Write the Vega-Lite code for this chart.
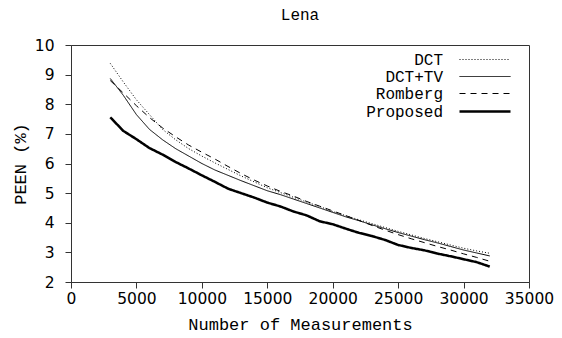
{
  "$schema": "https://vega.github.io/schema/vega-lite/v6.json",
  "width": 458,
  "height": 237,
  "autosize": {"type": "none"},
  "padding": {"left": 71, "top": 45, "right": 33, "bottom": 56},
  "title": {"text": "Lena", "font": "Liberation Mono", "fontSize": 16, "fontWeight": "normal", "color": "#000000", "offset": 15, "anchor": "middle"},
  "config": {
    "view": {"stroke": "#333333", "strokeWidth": 1, "fill": "#ffffff"},
    "axis": {"grid": false, "domain": true, "domainColor": "#333333", "ticks": true, "tickColor": "#333333", "tickSize": 6, "labelOverlap": false, "labelFlush": false,
      "labelFont": "DejaVu Sans", "labelFontSize": 15.5, "labelColor": "#000000",
      "titleFont": "Liberation Mono", "titleFontSize": 17, "titleFontWeight": "normal", "titleColor": "#000000"},
    "legend": {"labelFont": "Liberation Mono", "labelFontSize": 16, "labelColor": "#000000"}
  },
  "data": {"values": [
      {"n": 3000, "s": "DCT", "v": 9.38}, {"n": 4000, "s": "DCT", "v": 8.75}, {"n": 5000, "s": "DCT", "v": 8.15}, {"n": 6000, "s": "DCT", "v": 7.65}, {"n": 7000, "s": "DCT", "v": 7.15}, {"n": 8000, "s": "DCT", "v": 6.8}, {"n": 9000, "s": "DCT", "v": 6.5}, {"n": 10000, "s": "DCT", "v": 6.25}, {"n": 11000, "s": "DCT", "v": 6.02}, {"n": 12000, "s": "DCT", "v": 5.8}, {"n": 13000, "s": "DCT", "v": 5.58}, {"n": 14000, "s": "DCT", "v": 5.38}, {"n": 15000, "s": "DCT", "v": 5.18}, {"n": 16000, "s": "DCT", "v": 5.02}, {"n": 17000, "s": "DCT", "v": 4.86}, {"n": 18000, "s": "DCT", "v": 4.7}, {"n": 19000, "s": "DCT", "v": 4.55}, {"n": 20000, "s": "DCT", "v": 4.38}, {"n": 21000, "s": "DCT", "v": 4.24}, {"n": 22000, "s": "DCT", "v": 4.1}, {"n": 23000, "s": "DCT", "v": 3.97}, {"n": 24000, "s": "DCT", "v": 3.84}, {"n": 25000, "s": "DCT", "v": 3.71}, {"n": 26000, "s": "DCT", "v": 3.59}, {"n": 27000, "s": "DCT", "v": 3.47}, {"n": 28000, "s": "DCT", "v": 3.36}, {"n": 29000, "s": "DCT", "v": 3.25}, {"n": 30000, "s": "DCT", "v": 3.14}, {"n": 31000, "s": "DCT", "v": 3.05}, {"n": 32000, "s": "DCT", "v": 2.97},
      {"n": 3000, "s": "DCT+TV", "v": 8.87}, {"n": 4000, "s": "DCT+TV", "v": 8.3}, {"n": 5000, "s": "DCT+TV", "v": 7.65}, {"n": 6000, "s": "DCT+TV", "v": 7.15}, {"n": 7000, "s": "DCT+TV", "v": 6.8}, {"n": 8000, "s": "DCT+TV", "v": 6.5}, {"n": 9000, "s": "DCT+TV", "v": 6.25}, {"n": 10000, "s": "DCT+TV", "v": 6.0}, {"n": 11000, "s": "DCT+TV", "v": 5.78}, {"n": 12000, "s": "DCT+TV", "v": 5.6}, {"n": 13000, "s": "DCT+TV", "v": 5.42}, {"n": 14000, "s": "DCT+TV", "v": 5.25}, {"n": 15000, "s": "DCT+TV", "v": 5.08}, {"n": 16000, "s": "DCT+TV", "v": 4.95}, {"n": 17000, "s": "DCT+TV", "v": 4.8}, {"n": 18000, "s": "DCT+TV", "v": 4.65}, {"n": 19000, "s": "DCT+TV", "v": 4.5}, {"n": 20000, "s": "DCT+TV", "v": 4.35}, {"n": 21000, "s": "DCT+TV", "v": 4.2}, {"n": 22000, "s": "DCT+TV", "v": 4.07}, {"n": 23000, "s": "DCT+TV", "v": 3.93}, {"n": 24000, "s": "DCT+TV", "v": 3.8}, {"n": 25000, "s": "DCT+TV", "v": 3.67}, {"n": 26000, "s": "DCT+TV", "v": 3.55}, {"n": 27000, "s": "DCT+TV", "v": 3.43}, {"n": 28000, "s": "DCT+TV", "v": 3.32}, {"n": 29000, "s": "DCT+TV", "v": 3.2}, {"n": 30000, "s": "DCT+TV", "v": 3.08}, {"n": 31000, "s": "DCT+TV", "v": 2.98}, {"n": 32000, "s": "DCT+TV", "v": 2.88},
      {"n": 3000, "s": "Romberg", "v": 8.8}, {"n": 4000, "s": "Romberg", "v": 8.38}, {"n": 5000, "s": "Romberg", "v": 7.95}, {"n": 6000, "s": "Romberg", "v": 7.55}, {"n": 7000, "s": "Romberg", "v": 7.2}, {"n": 8000, "s": "Romberg", "v": 6.9}, {"n": 9000, "s": "Romberg", "v": 6.62}, {"n": 10000, "s": "Romberg", "v": 6.38}, {"n": 11000, "s": "Romberg", "v": 6.15}, {"n": 12000, "s": "Romberg", "v": 5.9}, {"n": 13000, "s": "Romberg", "v": 5.66}, {"n": 14000, "s": "Romberg", "v": 5.44}, {"n": 15000, "s": "Romberg", "v": 5.24}, {"n": 16000, "s": "Romberg", "v": 5.06}, {"n": 17000, "s": "Romberg", "v": 4.9}, {"n": 18000, "s": "Romberg", "v": 4.72}, {"n": 19000, "s": "Romberg", "v": 4.56}, {"n": 20000, "s": "Romberg", "v": 4.4}, {"n": 21000, "s": "Romberg", "v": 4.24}, {"n": 22000, "s": "Romberg", "v": 4.08}, {"n": 23000, "s": "Romberg", "v": 3.91}, {"n": 24000, "s": "Romberg", "v": 3.75}, {"n": 25000, "s": "Romberg", "v": 3.6}, {"n": 26000, "s": "Romberg", "v": 3.46}, {"n": 27000, "s": "Romberg", "v": 3.33}, {"n": 28000, "s": "Romberg", "v": 3.2}, {"n": 29000, "s": "Romberg", "v": 3.08}, {"n": 30000, "s": "Romberg", "v": 2.95}, {"n": 31000, "s": "Romberg", "v": 2.83}, {"n": 32000, "s": "Romberg", "v": 2.7},
      {"n": 3000, "s": "Proposed", "v": 7.56}, {"n": 4000, "s": "Proposed", "v": 7.1}, {"n": 5000, "s": "Proposed", "v": 6.82}, {"n": 6000, "s": "Proposed", "v": 6.52}, {"n": 7000, "s": "Proposed", "v": 6.3}, {"n": 8000, "s": "Proposed", "v": 6.05}, {"n": 9000, "s": "Proposed", "v": 5.83}, {"n": 10000, "s": "Proposed", "v": 5.6}, {"n": 11000, "s": "Proposed", "v": 5.38}, {"n": 12000, "s": "Proposed", "v": 5.15}, {"n": 13000, "s": "Proposed", "v": 5.0}, {"n": 14000, "s": "Proposed", "v": 4.85}, {"n": 15000, "s": "Proposed", "v": 4.68}, {"n": 16000, "s": "Proposed", "v": 4.55}, {"n": 17000, "s": "Proposed", "v": 4.38}, {"n": 18000, "s": "Proposed", "v": 4.25}, {"n": 19000, "s": "Proposed", "v": 4.05}, {"n": 20000, "s": "Proposed", "v": 3.95}, {"n": 21000, "s": "Proposed", "v": 3.8}, {"n": 22000, "s": "Proposed", "v": 3.66}, {"n": 23000, "s": "Proposed", "v": 3.55}, {"n": 24000, "s": "Proposed", "v": 3.42}, {"n": 25000, "s": "Proposed", "v": 3.25}, {"n": 26000, "s": "Proposed", "v": 3.15}, {"n": 27000, "s": "Proposed", "v": 3.07}, {"n": 28000, "s": "Proposed", "v": 2.96}, {"n": 29000, "s": "Proposed", "v": 2.87}, {"n": 30000, "s": "Proposed", "v": 2.77}, {"n": 31000, "s": "Proposed", "v": 2.67}, {"n": 32000, "s": "Proposed", "v": 2.52}
  ]},
  "mark": {"type": "line", "color": "#000000"},
  "encoding": {
    "x": {"field": "n", "type": "quantitative", "scale": {"domain": [0, 35000], "nice": false},
      "axis": {"values": [0, 5000, 10000, 15000, 20000, 25000, 30000, 35000], "format": "d", "labelPadding": 3, "title": "Number of Measurements", "titleBaseline": "middle", "titleY": 42}},
    "y": {"field": "v", "type": "quantitative", "scale": {"domain": [2, 10], "nice": false, "zero": false},
      "axis": {"values": [2, 3, 4, 5, 6, 7, 8, 9, 10], "labelPadding": 11, "title": "PEEN (%)", "titleBaseline": "middle", "titleX": -51, "titleY": 118.5, "titleAngle": -90}},
    "strokeDash": {"field": "s", "type": "nominal",
      "scale": {"type": "ordinal", "domain": ["DCT", "DCT+TV", "Romberg", "Proposed"], "range": [[1, 2], [1, 0], [6, 5], [1, 0]]},
      "legend": {"title": null, "orient": "none", "legendX": 387, "legendY": 5.5, "symbolType": "M-3,0H3", "symbolSize": 289, "symbolOffset": 17, "symbolStrokeColor": "#000000", "rowPadding": 0, "labelAlign": "right", "labelOffset": -52, "labelLimit": 300}},
    "strokeWidth": {"field": "s", "type": "nominal",
      "scale": {"type": "ordinal", "domain": ["DCT", "DCT+TV", "Romberg", "Proposed"], "range": [1, 1, 1, 2.5]},
      "legend": {"title": null, "orient": "none", "legendX": 387, "legendY": 5.5, "symbolType": "M-3,0H3", "symbolSize": 289, "symbolOffset": 17, "symbolStrokeColor": "#000000", "rowPadding": 0, "labelAlign": "right", "labelOffset": -52, "labelLimit": 300}}
  }
}
